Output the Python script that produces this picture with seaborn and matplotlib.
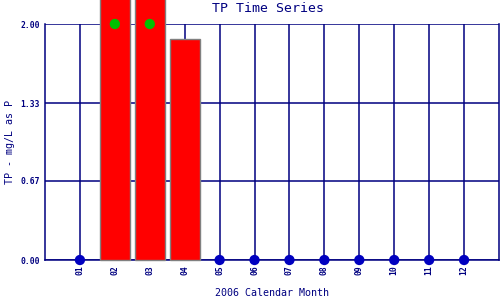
import matplotlib
matplotlib.use("Agg")
import matplotlib.pyplot as plt
import seaborn as sns
import pandas as pd

months = [1, 2, 3, 4, 5, 6, 7, 8, 9, 10, 11, 12]
month_labels = ["01", "02", "03", "04", "05", "06", "07", "08", "09", "10", "11", "12"]
bar_months = [2, 3, 4]
bar_values = [2.35, 2.35, 1.87]
green_months = [2, 3]
green_values = [2.0, 2.0]
blue_months = [1, 5, 6, 7, 8, 9, 10, 11, 12]
blue_values = [0, 0, 0, 0, 0, 0, 0, 0, 0]
y_ticks = [0.0, 0.67, 1.33, 2.0]
y_labels = ["0.00", "0.67", "1.33", "2.00"]

sns.set_style("white")
plt.rcParams['font.family'] = ['DejaVu Sans Mono', 'DejaVu Sans']
navy = "#000080"

fig = plt.figure(figsize=(5, 3), dpi=100)
ax = fig.add_axes([45/500, 40/300, 454/500, 236/300])

bars_df = pd.DataFrame({"month": bar_months, "value": bar_values})
sns.barplot(data=bars_df, x="month", y="value", native_scale=True, width=0.86,
            color="#FF0000", saturation=1, edgecolor="#808080", linewidth=1.0, ax=ax, zorder=3)
for p in ax.patches:
    p.set_clip_on(False)

gdf = pd.DataFrame({"month": green_months, "value": green_values})
sns.scatterplot(data=gdf, x="month", y="value", color="#00C000", s=55, marker="o",
                edgecolor="none", ax=ax, zorder=5, clip_on=False)
bdf = pd.DataFrame({"month": blue_months, "value": blue_values})
sns.scatterplot(data=bdf, x="month", y="value", color="#0000C0", s=55, marker="o",
                edgecolor="none", ax=ax, zorder=5, clip_on=False)

ax.set_xlim(0, 13)
ax.set_ylim(0, 2.0)
ax.set_xticks(months)
ax.set_xticklabels(month_labels, rotation=90, fontsize=5.8, color=navy, fontweight="bold")
ax.set_yticks(y_ticks)
ax.set_yticklabels(y_labels, fontsize=5.8, color=navy, fontweight="bold")
ax.tick_params(length=0, pad=3.6)
ax.grid(True, color=navy, linewidth=1.1, zorder=0)
ax.set_axisbelow(True)
for s in ax.spines.values():
    s.set_color(navy)
    s.set_linewidth(1.1)
ax.spines["top"].set_visible(False)

ax.set_xlabel("2006 Calendar Month", fontsize=7.2, color=navy)
ax.set_ylabel("TP - mg/L as P", fontsize=7.2, color=navy)
ax.xaxis.set_label_coords((272 - 45) / 454, -(293 - 260) / 236)
ax.yaxis.set_label_coords((10 - 45) / 454, 0.5)
ax.xaxis.label.set_va("center")
ax.yaxis.label.set_va("center")
fig.text(268/500, 1 - 9/300, "TP Time Series", ha="center", va="center", fontsize=9.5, color=navy)

fig.savefig("out.png", dpi=100)
